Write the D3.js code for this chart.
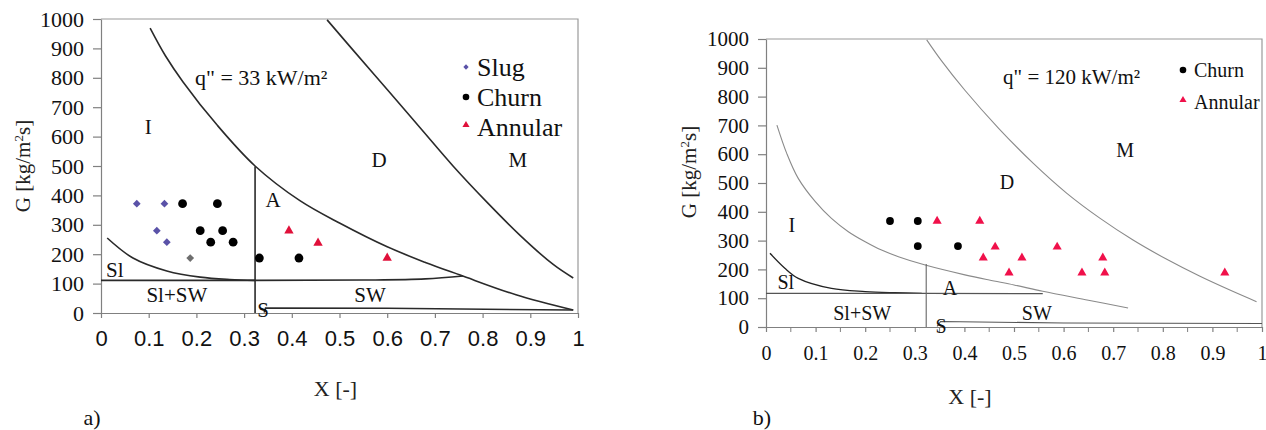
<!DOCTYPE html>
<html>
<head>
<meta charset="utf-8">
<script src="https://cdn.jsdelivr.net/npm/d3@7"></script>
<style>
  body { margin: 0; background: #fff; }
  svg { display: block; }
</style>
</head>
<body>
<div id="chart"></div>
<script>
// Datos del panel a) q" = 33 kW/m²
var slugA = [[0.075, 372], [0.133, 372], [0.117, 280], [0.138, 241]];
var slugGreyA = [[0.187, 187]];
var churnA = [[0.171, 372], [0.244, 372], [0.208, 280], [0.255, 280], [0.23, 241], [0.277, 241], [0.332, 187], [0.415, 187]];
var annularA = [[0.394, 280], [0.455, 238], [0.6, 187]];

// Límites de régimen (panel a)
var curveIDA = [[0.103, 969], [0.135, 875], [0.172, 786], [0.243, 640], [0.323, 500], [0.417, 382], [0.501, 305], [0.6, 225], [0.68, 172], [0.753, 129], [0.87, 62], [0.99, 10]];
var curveDMA = [[0.474, 997], [0.528, 895], [0.6, 760], [0.669, 630], [0.738, 500], [0.809, 377], [0.878, 265], [0.948, 165], [0.99, 119]];
var curveSlA = [[0.013, 255], [0.067, 187], [0.138, 143], [0.208, 122], [0.27, 114], [0.323, 111]];
var lineSlSWA = [[0, 111], [0.323, 111], [0.55, 112], [0.68, 116], [0.759, 126]];
var lineVertA = [[0.323, 0], [0.323, 498]];
var lineSA = [[0.342, 2], [0.345, 17], [0.6, 16], [0.99, 10]];

// Datos del panel b) q" = 120 kW/m²
var churnB = [[0.25, 368], [0.306, 368], [0.306, 281], [0.387, 281]];
var annularB = [[0.345, 368], [0.431, 368], [0.462, 278], [0.438, 240], [0.516, 240], [0.49, 188], [0.587, 278], [0.679, 240], [0.637, 188], [0.683, 188], [0.925, 188]];

// Límites de régimen (panel b)
var curveIDB = [[0.022, 701], [0.042, 602], [0.065, 516], [0.099, 436], [0.132, 377], [0.166, 331], [0.2, 296], [0.233, 267], [0.267, 244], [0.321, 215], [0.401, 181], [0.45, 163], [0.5, 146], [0.558, 124], [0.65, 93], [0.73, 66]];
var curveDMB = [[0.324, 997], [0.354, 924], [0.401, 822], [0.469, 690], [0.539, 568], [0.606, 465], [0.673, 378], [0.74, 302], [0.808, 235], [0.875, 176], [0.942, 123], [0.989, 88]];
var curveSlB = [[0.008, 256], [0.038, 204], [0.065, 169], [0.132, 134], [0.2, 123], [0.26, 119], [0.314, 117]];
var lineSlSWB = [[0, 117], [0.323, 117], [0.558, 116]];
var lineVertB = [[0.323, 0], [0.323, 219]];
var lineSB = [[0.345, 2], [0.352, 19], [0.6, 14], [1, 12]];

// Ejes
var xTicks = [0, 0.1, 0.2, 0.3, 0.4, 0.5, 0.6, 0.7, 0.8, 0.9, 1];
var xTickLabels = ["0", "0.1", "0.2", "0.3", "0.4", "0.5", "0.6", "0.7", "0.8", "0.9", "1"];
var xMinorTicks = [0.05, 0.15, 0.25, 0.35, 0.45, 0.55, 0.65, 0.75, 0.85, 0.95];
var yTicks = [0, 100, 200, 300, 400, 500, 600, 700, 800, 900, 1000];

// Etiquetas de regiones [texto, X, G]
var regionsA = [["I", 0.099, 633], ["D", 0.583, 520], ["M", 0.874, 520], ["A", 0.361, 384], ["Sl", 0.029, 146], ["Sl+SW", 0.159, 61], ["S", 0.34, 10], ["SW", 0.564, 61]];
var regionsB = [["M", 0.724, 615], ["D", 0.486, 503], ["I", 0.052, 354], ["Sl", 0.04, 156], ["Sl+SW", 0.194, 49], ["A", 0.371, 135], ["S", 0.353, 3], ["SW", 0.546, 49]];

var serif = "'Liberation Serif', 'Times New Roman', serif";
var sans = "'Liberation Sans', Arial, sans-serif";

var svg = d3.select("#chart").append("svg")
    .attr("width", 1266)
    .attr("height", 430);

// Función para dibujar un panel completo
function drawPanel(cfg) {
    var x = d3.scaleLinear().domain([0, 1]).range(cfg.xRange);
    var y = d3.scaleLinear().domain([0, 1000]).range(cfg.yRange);
    var g = svg.append("g");

    // Marco superior y derecho
    g.append("path")
        .attr("d", "M" + x(0) + "," + y(1000) + "H" + x(1) + "V" + y(0))
        .attr("fill", "none")
        .attr("stroke", "#9a9a9a")
        .attr("stroke-width", 1.2);

    // Eje X
    var xAxis = g.append("g")
        .attr("transform", "translate(0," + y(0) + ")")
        .call(d3.axisBottom(x).tickValues(xTicks).tickSize(5).tickSizeOuter(0).tickPadding(cfg.xPad)
            .tickFormat(function(d, i) { return xTickLabels[i]; }));
    xAxis.selectAll("text")
        .style("font-family", cfg.xFont)
        .style("font-size", cfg.xFontSize + "px")
        .attr("fill", "#111");
    if (cfg.minor) {
        xAxis.selectAll(".minor")
            .data(xMinorTicks)
            .enter()
            .append("line")
            .attr("x1", d => x(d))
            .attr("x2", d => x(d))
            .attr("y1", 0)
            .attr("y2", 5)
            .attr("stroke", "#808080");
    }

    // Eje Y
    var yAxis = g.append("g")
        .attr("transform", "translate(" + x(0) + ",0)")
        .call(d3.axisLeft(y).tickValues(yTicks).tickSize(8).tickSizeOuter(0).tickPadding(9)
            .tickFormat(d3.format("d")));
    yAxis.selectAll("text")
        .style("font-family", serif)
        .style("font-size", cfg.yFontSize + "px")
        .attr("fill", "#111");

    g.selectAll(".domain, .tick line")
        .attr("stroke", "#808080")
        .attr("stroke-width", 1.2);

    // Líneas de transición
    var line = d3.line().x(d => x(d[0])).y(d => y(d[1])).curve(d3.curveCatmullRom.alpha(0.5));
    var straight = d3.line().x(d => x(d[0])).y(d => y(d[1]));
    cfg.curves.forEach(function(c) {
        g.append("path")
            .attr("d", (c.smooth ? line : straight)(c.data))
            .attr("fill", "none")
            .attr("stroke", c.color)
            .attr("stroke-width", c.width);
    });

    // Etiquetas de regiones
    g.selectAll(".region")
        .data(cfg.regions)
        .enter()
        .append("text")
        .attr("x", d => x(d[1]))
        .attr("y", d => y(d[2]))
        .attr("dy", "0.35em")
        .attr("text-anchor", "middle")
        .style("font-family", serif)
        .style("font-size", cfg.regionSize + "px")
        .attr("fill", "#111")
        .text(d => d[0]);

    // Puntos experimentales
    var diamond = d3.symbol().type(d3.symbolSquare).size(cfg.diamondSize);
    var tri = d3.symbol().type(d3.symbolTriangle).size(cfg.triSize);
    cfg.series.forEach(function(s) {
        var sel = g.selectAll(null)
            .data(s.data)
            .enter();
        if (s.type === "circle") {
            sel.append("circle")
                .attr("cx", d => x(d[0]))
                .attr("cy", d => y(d[1]))
                .attr("r", cfg.circleR)
                .attr("fill", s.color);
        } else if (s.type === "diamond") {
            sel.append("path")
                .attr("d", diamond())
                .attr("transform", d => "translate(" + x(d[0]) + "," + y(d[1]) + ") rotate(45)")
                .attr("fill", s.color);
        } else {
            sel.append("path")
                .attr("d", tri())
                .attr("transform", d => "translate(" + x(d[0]) + "," + y(d[1]) + ")")
                .attr("fill", s.color);
        }
    });

    // Texto q"
    g.append("text")
        .attr("x", x(cfg.qPos[0]))
        .attr("y", y(cfg.qPos[1]))
        .attr("dy", "0.35em")
        .style("font-family", serif)
        .style("font-size", cfg.qSize + "px")
        .attr("fill", "#111")
        .text(cfg.qText);

    // Leyenda
    cfg.legend.forEach(function(l, i) {
        var ly = cfg.legendY + i * cfg.legendStep;
        if (l.type === "circle") {
            g.append("circle").attr("cx", cfg.legendX).attr("cy", ly).attr("r", cfg.legendR).attr("fill", l.color);
        } else if (l.type === "diamond") {
            g.append("path").attr("d", d3.symbol().type(d3.symbolSquare).size(14)())
                .attr("transform", "translate(" + cfg.legendX + "," + ly + ") rotate(45)").attr("fill", l.color);
        } else {
            g.append("path").attr("d", d3.symbol().type(d3.symbolTriangle).size(cfg.legendTri)())
                .attr("transform", "translate(" + cfg.legendX + "," + (ly - 2) + ")").attr("fill", l.color);
        }
        g.append("text")
            .attr("x", cfg.legendX + 11)
            .attr("y", ly)
            .attr("dy", "0.35em")
            .style("font-family", serif)
            .style("font-size", cfg.legendSize + "px")
            .attr("fill", "#111")
            .text(l.name);
    });

    // Títulos de ejes
    g.append("text")
        .attr("x", (cfg.xRange[0] + cfg.xRange[1]) / 2 + cfg.xTitleShift)
        .attr("y", cfg.xTitleY)
        .attr("dy", "0.35em")
        .attr("text-anchor", "middle")
        .style("font-family", serif)
        .style("font-size", "22px")
        .attr("fill", "#222")
        .text("X [-]");

    var gt = g.append("text")
        .attr("transform", "translate(" + cfg.yTitleX + "," + cfg.yTitleY + ") rotate(-90)")
        .attr("dy", "0.35em")
        .attr("text-anchor", "middle")
        .style("font-family", serif)
        .style("font-size", "21px")
        .attr("fill", "#222");
    gt.append("tspan").text("G [kg/m");
    gt.append("tspan").style("font-size", "13px").attr("dy", "-0.6em").text("2");
    gt.append("tspan").attr("dy", "0.35em").text("s]");

    // Etiqueta del panel
    g.append("text")
        .attr("x", cfg.panelLabel[1])
        .attr("y", cfg.panelLabel[2])
        .attr("dy", "0.35em")
        .attr("text-anchor", "middle")
        .style("font-family", serif)
        .style("font-size", "22px")
        .attr("fill", "#111")
        .text(cfg.panelLabel[0]);
}

var darkLine = "#2a2a2a";
var greyLine = "#8a8a8a";

drawPanel({
    xRange: [101, 578], yRange: [313, 19],
    xFont: sans, xFontSize: 22, xPad: 12, yFontSize: 22, minor: false,
    curves: [
        { data: curveIDA, smooth: true, color: darkLine, width: 1.6 },
        { data: curveDMA, smooth: true, color: darkLine, width: 1.6 },
        { data: curveSlA, smooth: true, color: darkLine, width: 1.6 },
        { data: lineSlSWA, smooth: true, color: darkLine, width: 1.6 },
        { data: lineVertA, smooth: false, color: darkLine, width: 1.6 },
        { data: lineSA, smooth: false, color: darkLine, width: 1.6 }
    ],
    regions: regionsA, regionSize: 21,
    series: [
        { data: slugA, type: "diamond", color: "#5a52a8" },
        { data: slugGreyA, type: "diamond", color: "#6e6e6e" },
        { data: churnA, type: "circle", color: "#000" },
        { data: annularA, type: "triangle", color: "#e0103a" }
    ],
    circleR: 4.4, diamondSize: 30, triSize: 38,
    qPos: [0.197, 803], qText: "q\" = 33 kW/m²", qSize: 22,
    legend: [
        { name: "Slug", type: "diamond", color: "#5a52a8" },
        { name: "Churn", type: "circle", color: "#000" },
        { name: "Annular", type: "triangle", color: "#e0103a" }
    ],
    legendX: 466, legendY: 67, legendStep: 30, legendSize: 26, legendR: 3.3, legendTri: 22,
    xTitleShift: -4, xTitleY: 388,
    yTitleX: 23, yTitleY: 166,
    panelLabel: ["a)", 92, 417]
});

drawPanel({
    xRange: [766, 1262], yRange: [327, 39],
    xFont: serif, xFontSize: 20, xPad: 14, yFontSize: 21, minor: true,
    curves: [
        { data: curveIDB, smooth: true, color: greyLine, width: 1.1 },
        { data: curveDMB, smooth: true, color: greyLine, width: 1.1 },
        { data: curveSlB, smooth: true, color: "#222", width: 1.3 },
        { data: lineSlSWB, smooth: false, color: "#555", width: 1.3 },
        { data: lineVertB, smooth: false, color: "#666", width: 1.1 },
        { data: lineSB, smooth: false, color: "#555", width: 1.1 }
    ],
    regions: regionsB, regionSize: 20,
    series: [
        { data: churnB, type: "circle", color: "#000" },
        { data: annularB, type: "triangle", color: "#f0104a" }
    ],
    circleR: 3.9, diamondSize: 30, triSize: 36,
    qPos: [0.478, 868], qText: "q\" = 120 kW/m²", qSize: 21,
    legend: [
        { name: "Churn", type: "circle", color: "#000" },
        { name: "Annular", type: "triangle", color: "#f0104a" }
    ],
    legendX: 1183, legendY: 70, legendStep: 32, legendSize: 20, legendR: 3.3, legendTri: 22,
    xTitleShift: -44, xTitleY: 396,
    yTitleX: 689, yTitleY: 172,
    panelLabel: ["b)", 762, 417]
});
</script>
</body>
</html>
